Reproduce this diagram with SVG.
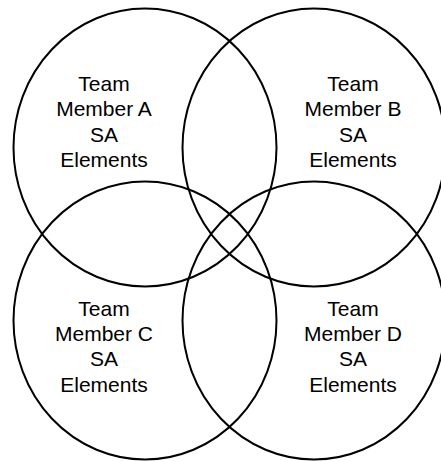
<svg xmlns="http://www.w3.org/2000/svg" width="441" height="461" viewBox="0 0 441 461">
<style>
.c{fill:none;stroke:#000;stroke-width:2}
.t{font-family:"Liberation Sans",Arial,sans-serif;font-size:21px;fill:#000;text-anchor:middle}
</style>
<rect width="441" height="461" fill="#fff"/>
<g id="connectors"></g>
<g id="nodeA"><ellipse class="c" cx="145" cy="147.5" rx="131.5" ry="139"/>
<text class="t" x="104" y="91">Team</text><text class="t" x="104" y="116.3">Member A</text><text class="t" x="104" y="141.6">SA</text><text class="t" x="104" y="166.9">Elements</text></g>
<g id="nodeB"><ellipse class="c" cx="314" cy="147.5" rx="131.5" ry="139"/>
<text class="t" x="353" y="91">Team</text><text class="t" x="353" y="116.3">Member B</text><text class="t" x="353" y="141.6">SA</text><text class="t" x="353" y="166.9">Elements</text></g>
<g id="nodeC"><ellipse class="c" cx="145" cy="320.5" rx="131.5" ry="139"/>
<text class="t" x="104" y="315.7">Team</text><text class="t" x="104" y="341">Member C</text><text class="t" x="104" y="366.3">SA</text><text class="t" x="104" y="391.6">Elements</text></g>
<g id="nodeD"><ellipse class="c" cx="314" cy="320.5" rx="131.5" ry="139"/>
<text class="t" x="353" y="315.7">Team</text><text class="t" x="353" y="341">Member D</text><text class="t" x="353" y="366.3">SA</text><text class="t" x="353" y="391.6">Elements</text></g>
</svg>
